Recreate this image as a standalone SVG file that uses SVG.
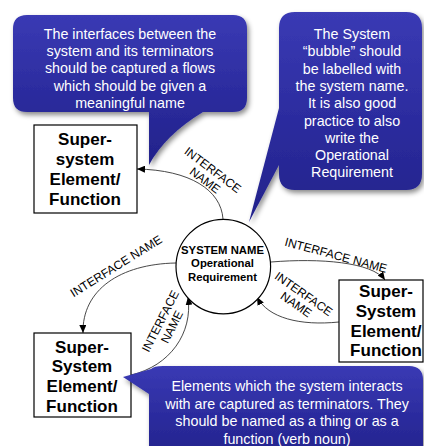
<svg xmlns="http://www.w3.org/2000/svg" width="424" height="446" viewBox="0 0 424 446">
<style>
.note{fill:#fff;font-family:"Liberation Sans",Arial,sans-serif;font-size:14.3px;text-anchor:middle}
.box{fill:#fff;stroke:#000;stroke-width:1.2}
.bt{fill:#000;font-family:"Liberation Sans",Arial,sans-serif;font-size:17px;font-weight:bold;text-anchor:middle}
.ct{fill:#000;font-family:"Liberation Sans",Arial,sans-serif;font-size:11.3px;font-weight:bold;text-anchor:middle}
.lbl{fill:#000;font-family:"Liberation Sans",Arial,sans-serif;font-size:12px;text-anchor:middle}
.con{fill:none;stroke:#333;stroke-width:0.9}
.bub{fill:url(#bg);filter:url(#sh)}
</style>
<defs>
<linearGradient id="bg" x1="0" y1="0" x2="0" y2="1">
<stop offset="0" stop-color="#3a3ab4"/>
<stop offset="0.5" stop-color="#2c2c9f"/>
<stop offset="1" stop-color="#22228a"/>
</linearGradient>
<filter id="sh" x="-20%" y="-20%" width="140%" height="140%">
<feDropShadow dx="2" dy="3" stdDeviation="2.5" flood-color="#000" flood-opacity="0.45"/>
</filter>
<marker id="ah" markerUnits="userSpaceOnUse" markerWidth="8" markerHeight="7" refX="8" refY="3.5" orient="auto">
<path d="M0,0 L8,3.5 L0,7 Z" fill="#000"/>
</marker>
</defs>

<g id="connectors">
<path class="con" marker-end="url(#ah)" d="M223,219 C221,190 190,170 137,169"/>
<path class="con" marker-end="url(#ah)" d="M271,262 C320,258 372,262 385,280"/>
<path class="con" marker-end="url(#ah)" d="M339,322 C300,326 268,318 257,297"/>
<path class="con" marker-end="url(#ah)" d="M176,263 C120,264 82,290 83,333"/>
<path class="con" marker-end="url(#ah)" d="M131,375 C170,366 193,333 188,297"/>
<g transform="translate(209,175) rotate(37)"><text class="lbl" y="-2.2">INTERFACE</text><text class="lbl" y="10.8">NAME</text></g>
<g transform="translate(336,255) rotate(15)"><text class="lbl" y="4.3">INTERFACE NAME</text></g>
<g transform="translate(300,299) rotate(35)"><text class="lbl" y="-2.2">INTERFACE</text><text class="lbl" y="10.8">NAME</text></g>
<g transform="translate(116,266) rotate(-32)"><text class="lbl" y="4.3">INTERFACE NAME</text></g>
<g transform="translate(166,324) rotate(-63)"><text class="lbl" y="-2.2">INTERFACE</text><text class="lbl" y="10.8">NAME</text></g>
</g>

<g id="system">
<circle cx="223.3" cy="266.6" r="47.3" fill="#fff" stroke="#000" stroke-width="1.2"/>
<text class="ct" x="222.5" y="254">SYSTEM NAME</text>
<text class="ct" x="222.5" y="267.4">Operational</text>
<text class="ct" x="222.5" y="280.8">Requirement</text>
</g>

<g id="terminator1">
<rect class="box" x="34" y="125" width="103" height="88"/>
<text class="bt" x="85" y="145.3">Super-</text>
<text class="bt" x="85" y="165.1">system</text>
<text class="bt" x="85" y="184.9">Element/</text>
<text class="bt" x="85" y="204.7">Function</text>
</g>

<g id="terminator2">
<rect class="box" x="34" y="333" width="97" height="84"/>
<text class="bt" x="82" y="352.6">Super-</text>
<text class="bt" x="82" y="372.4">System</text>
<text class="bt" x="82" y="392.2">Element/</text>
<text class="bt" x="82" y="412">Function</text>
</g>

<g id="terminator3">
<rect class="box" x="339" y="280" width="84" height="82"/>
<text class="bt" x="386" y="297">Super-</text>
<text class="bt" x="386" y="316.8">System</text>
<text class="bt" x="386" y="336.6">Element/</text>
<text class="bt" x="386" y="356.4">Function</text>
</g>

<g id="note1">
<path class="bub" d="M27,15 H233 Q247,15 247,29 V98 Q247,112 233,112 H203 Q165,135 149,165 V112 H27 Q13,112 13,98 V29 Q13,15 27,15 Z"/>
<text class="note" x="130" y="39">The interfaces between the</text>
<text class="note" x="130" y="56.2">system and its terminators</text>
<text class="note" x="130" y="73.4">should be captured a flows</text>
<text class="note" x="130" y="90.6">which should be given a</text>
<text class="note" x="130" y="107.8">meaningful name</text>
</g>

<g id="note2">
<path class="bub" d="M295,12 H406 Q422,12 422,28 V174 Q422,190 406,190 H295 Q279,190 279,174 V165 L249,222 L279,108 V28 Q279,12 295,12 Z"/>
<text class="note" x="352" y="39">The System</text>
<text class="note" x="352" y="56.3">“bubble” should</text>
<text class="note" x="352" y="73.6">be labelled with</text>
<text class="note" x="352" y="90.9">the system name.</text>
<text class="note" x="352" y="108.2">It is also good</text>
<text class="note" x="352" y="125.5">practice to also</text>
<text class="note" x="352" y="142.8">write the</text>
<text class="note" x="352" y="160.1">Operational</text>
<text class="note" x="352" y="177.4">Requirement</text>
</g>

<g id="note3">
<path class="bub" d="M163,366 H409 Q423,366 423,380 V462 H163 Q149,462 149,448 V394 L123,377 L151,369 Q154,366 163,366 Z"/>
<text class="note" x="287" y="391.4">Elements which the system interacts</text>
<text class="note" x="287" y="408.8">with are captured as terminators. They</text>
<text class="note" x="287" y="426.2">should be named as a thing or as a</text>
<text class="note" x="287" y="443.6">function (verb noun)</text>
</g>
</svg>
